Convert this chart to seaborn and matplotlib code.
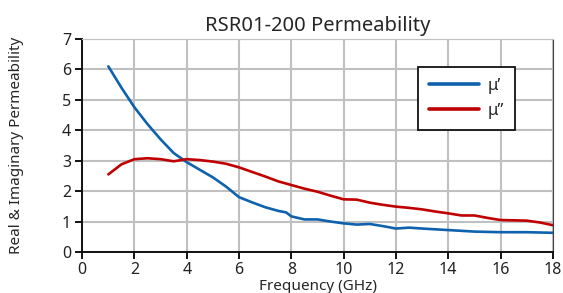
import numpy as np
import pandas as pd
import matplotlib
matplotlib.use('Agg')
import matplotlib.pyplot as plt
import seaborn as sns

# Values
freq_real = [1, 1.5, 2, 2.5, 3, 3.5, 4, 4.5, 5, 5.5, 6, 6.5, 7, 7.5, 7.8, 8, 8.5, 9, 9.5, 10,
             10.5, 11, 11.5, 12, 12.5, 13, 14, 15, 16, 17, 18]
mu_real = [6.1, 5.4, 4.75, 4.2, 3.7, 3.25, 2.95, 2.7, 2.45, 2.15, 1.8, 1.63, 1.47, 1.35, 1.3, 1.17, 1.07,
           1.07, 1.0, 0.94, 0.9, 0.92, 0.85, 0.77, 0.8, 0.77, 0.72, 0.67, 0.65, 0.65, 0.63]

freq_imag = [1, 1.5, 2, 2.5, 3, 3.5, 4, 4.5, 5, 5.5, 6, 6.5, 7, 7.5, 8, 8.5, 9, 9.5, 10, 10.5,
             11, 11.5, 12, 12.5, 13, 13.5, 14, 14.5, 15, 15.5, 16, 17, 17.5, 18]
mu_imag = [2.55, 2.88, 3.05, 3.08, 3.05, 2.98, 3.05, 3.02, 2.97, 2.9, 2.78, 2.63, 2.48, 2.32, 2.2,
           2.08, 1.98, 1.85, 1.73, 1.72, 1.62, 1.55, 1.49, 1.45, 1.4, 1.33, 1.27, 1.2, 1.2, 1.12,
           1.05, 1.03, 0.97, 0.88]

df = pd.concat([
    pd.DataFrame({'freq': freq_real, 'mu': mu_real, 'part': "μ’"}),
    pd.DataFrame({'freq': freq_imag, 'mu': mu_imag, 'part': "μ”"}),
])

sns.set_style('whitegrid')
plt.rcParams['font.family'] = ['Noto Sans', 'DejaVu Sans']

fig = plt.figure(figsize=(5.63, 2.93), dpi=100)
ax = fig.add_axes([0.146, 0.14, 0.836, 0.727])

sns.lineplot(data=df, x='freq', y='mu', hue='part', palette=['#0e62ad', '#c00000'],
             linewidth=1.9, ax=ax, sort=False)

ax.set_xlim(0, 18)
ax.set_ylim(0, 7)
ax.set_xticks(range(0, 19, 2))
ax.set_yticks(range(0, 8))
ax.grid(True, color='#c0c0c0', linewidth=1.5)
ax.spines['top'].set_color('#c0c0c0')
ax.spines['right'].set_color('#444444')
for s in ['left', 'bottom']:
    ax.spines[s].set_color('#111111')
    ax.spines[s].set_linewidth(1.4)
ax.tick_params(axis='both', direction='out', length=5, width=1.4, colors='#111111',
               labelsize=11.5, left=True, bottom=True)
ax.tick_params(axis='y', pad=3)
ax.tick_params(axis='x', pad=2)
for lbl in ax.get_xticklabels() + ax.get_yticklabels():
    lbl.set_color('#222222')

ax.set_xlabel('Frequency (GHz)', fontsize=11, labelpad=1)
ax.set_ylabel('Real & Imaginary Permeability', fontsize=11, labelpad=27)
ax.set_title('RSR01-200 Permeability', fontsize=14.5, pad=6)

leg = ax.legend(title=None, loc='upper right', bbox_to_anchor=(0.919, 0.869), fontsize=12,
                frameon=True, fancybox=False, edgecolor='#111111', handlelength=3.0,
                borderpad=0.65, labelspacing=0.55, borderaxespad=0, handletextpad=0.5)
leg.get_frame().set_linewidth(1.3)
leg.get_frame().set_alpha(1)
for line in leg.get_lines():
    line.set_linewidth(2.6)

fig.savefig('out.png', dpi=100)
